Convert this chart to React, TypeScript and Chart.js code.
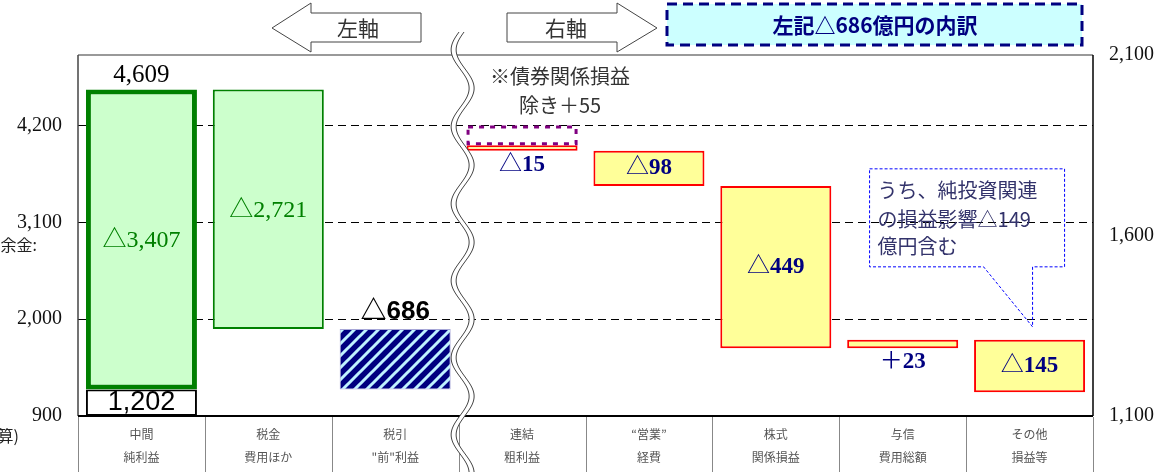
import React, { useEffect, useRef } from "react";
import { Chart, registerables } from "chart.js";
Chart.register(...registerables);

// ---- data ----
const categoryTop = ["中間", "税金", "税引", "連結", "“営業”", "株式", "与信", "その他"];
const categoryBottom = ["純利益", "費用ほか", "\"前\"利益", "粗利益", "経費", "関係損益", "費用総額", "損益等"];
const interimNetIncome = 4609;
const interimBaseLevel = 1202;
const taxesAndOther = -2721;
const leftAxisRange = [900, 5000];
const leftTickValues = [900, 2000, 3100, 4200];
const rightAxisRange = [1100, 2100];
const rightTickValues = [1100, 1600, 2100];
const breakdownStart = 1850;
const breakdownChanges = [-15, -98, -449, 23, -145];
const bondGainExcluded = 55;
const breakdownTotal = -686;
const netInvestmentImpact = -149;

const fmt = (v: number) => Math.abs(v).toLocaleString("en-US");
const sign = (v: number) => (v < 0 ? "△" : "＋");
const delta = (v: number) => sign(v) + fmt(v);

const SERIF = "'Liberation Serif', 'Noto Sans CJK JP', serif";
const SANS = "'Liberation Sans', 'Noto Sans CJK JP', sans-serif";
const GOTHIC = "'Noto Sans CJK JP', sans-serif";

export default function App() {
  const ref = useRef<HTMLCanvasElement | null>(null);
  useEffect(() => {
    document.body.style.margin = "0";
    const canvas = ref.current!;
    const ctx0 = canvas.getContext("2d")!;

    // hatch pattern
    const tile = document.createElement("canvas");
    tile.width = 12; tile.height = 12;
    const g = tile.getContext("2d")!;
    g.fillStyle = "#000080"; g.fillRect(0, 0, 12, 12);
    g.strokeStyle = "#bff2ff"; g.lineWidth = 3;
    g.beginPath();
    g.moveTo(-2, 14); g.lineTo(14, -2);
    g.moveTo(-8, 8); g.lineTo(8, -8);
    g.moveTo(4, 20); g.lineTo(20, 4);
    g.stroke();
    const hatch = ctx0.createPattern(tile, "repeat")!;

    const afterTax = interimNetIncome + taxesAndOther;
    const n = categoryTop.length;
    const leftMain: any[] = new Array(n).fill(null);
    leftMain[0] = [interimBaseLevel, interimNetIncome];
    leftMain[1] = [afterTax, interimNetIncome];
    leftMain[2] = [interimBaseLevel, afterTax];
    const leftBase: any[] = new Array(n).fill(null);
    leftBase[0] = [leftAxisRange[0], interimBaseLevel];
    const rightMain: any[] = new Array(n).fill(null);
    let run = breakdownStart;
    breakdownChanges.forEach((c, i) => { rightMain[3 + i] = [run, run + c]; run += c; });
    const bondBox: any[] = new Array(n).fill(null);
    bondBox[3] = [breakdownStart, breakdownStart + bondGainExcluded];

    const common = { grouped: false, categoryPercentage: 1, barPercentage: 0.875, borderSkipped: false };

    const text = (ctx: CanvasRenderingContext2D, s: string, x: number, y: number, font: string, color: string, align: CanvasTextAlign = "center") => {
      ctx.font = font; ctx.fillStyle = color; ctx.textAlign = align; ctx.textBaseline = "middle";
      ctx.fillText(s, x, y);
    };
    // sign glyph thin, digits bold, centred together
    const signedText = (ctx: CanvasRenderingContext2D, v: number, x: number, y: number, color: string) => {
      const f1 = "23px " + SERIF, f2 = "bold 23px " + SERIF;
      ctx.font = f1; const w1 = ctx.measureText(sign(v)).width;
      ctx.font = f2; const w2 = ctx.measureText(fmt(v)).width;
      const x0 = x - (w1 + w2) / 2;
      text(ctx, sign(v), x0, y, f1, color, "left");
      text(ctx, fmt(v), x0 + w1, y, f2, color, "left");
    };

    const fx = {
      id: "fx",
      beforeDatasetsDraw(chart: any) {
        const { ctx, chartArea: a, scales } = chart;
        ctx.save();
        ctx.strokeStyle = "#000"; ctx.lineWidth = 1; ctx.setLineDash([8, 5]);
        leftTickValues.forEach((v) => {
          if (v <= leftAxisRange[0]) return;
          const y = Math.round(scales.yL.getPixelForValue(v)) + 0.5;
          ctx.beginPath(); ctx.moveTo(a.left, y); ctx.lineTo(a.right, y); ctx.stroke();
        });
        ctx.restore();
      },
      afterDatasetsDraw(chart: any) {
        const { ctx, chartArea: a, scales } = chart;
        const xs = scales.x, yL = scales.yL, yR = scales.yR;
        const H = chart.height;
        ctx.save();

        // purple dotted bond box
        const bm = chart.getDatasetMeta(3).data[3];
        if (bm) {
          const l = bm.x - bm.width / 2 + 1.5, r = bm.x + bm.width / 2 - 1.5;
          const t = yR.getPixelForValue(bondBox[3][1]) + 1.5, b = yR.getPixelForValue(bondBox[3][0]) - 1.5;
          ctx.setLineDash([5, 6]); ctx.strokeStyle = "#800080"; ctx.lineWidth = 3;
          ctx.strokeRect(l, t, r - l, b - t);
          ctx.setLineDash([]);
        }

        // frame
        ctx.lineWidth = 1.5;
        ctx.strokeStyle = "#777";
        ctx.beginPath(); ctx.moveTo(a.left, a.top); ctx.lineTo(a.right, a.top); ctx.stroke();
        ctx.strokeStyle = "#444";
        ctx.beginPath(); ctx.moveTo(a.left, a.top); ctx.lineTo(a.left, a.bottom); ctx.stroke();
        ctx.strokeStyle = "#000";
        ctx.beginPath(); ctx.moveTo(a.right, a.top); ctx.lineTo(a.right, a.bottom); ctx.stroke();
        ctx.lineWidth = 2;
        ctx.beginPath(); ctx.moveTo(a.left, a.bottom); ctx.lineTo(a.right, a.bottom); ctx.stroke();

        // category table
        ctx.lineWidth = 1; ctx.strokeStyle = "#888";
        for (let i = 0; i <= n; i++) {
          const x = Math.round(xs.getPixelForValue(i - 0.5)) + 0.5;
          ctx.beginPath(); ctx.moveTo(x, a.bottom + 1); ctx.lineTo(x, H); ctx.stroke();
        }
        for (let i = 0; i < n; i++) {
          const x = xs.getPixelForValue(i);
          text(ctx, categoryTop[i], x, a.bottom + 18, "12px " + GOTHIC, "#555");
          text(ctx, categoryBottom[i], x, a.bottom + 41, "12px " + GOTHIC, "#555");
        }

        // wave break
        const cx = xs.getPixelForValue(2.5) + 4;
        const wx = (y: number) => cx + 9 * Math.sin((2 * Math.PI * (y - 69)) / 77);
        const pts: number[] = [];
        for (let y = 32; y <= H; y += 2) pts.push(y);
        ctx.beginPath();
        pts.forEach((y, i) => (i ? ctx.lineTo(wx(y) - 2.5, y) : ctx.moveTo(wx(y) - 2.5, y)));
        for (let i = pts.length - 1; i >= 0; i--) ctx.lineTo(wx(pts[i]) + 2.5, pts[i]);
        ctx.closePath(); ctx.fillStyle = "#fff"; ctx.fill();
        ctx.strokeStyle = "#444"; ctx.lineWidth = 1;
        [-2.5, 2.5].forEach((o) => {
          ctx.beginPath();
          pts.forEach((y, i) => (i ? ctx.lineTo(wx(y) + o, y) : ctx.moveTo(wx(y) + o, y)));
          ctx.stroke();
        });

        // left labels
        const x0 = xs.getPixelForValue(0), x1 = xs.getPixelForValue(1), x2 = xs.getPixelForValue(2);
        text(ctx, fmt(interimNetIncome), x0, yL.getPixelForValue(interimNetIncome) - 14, "25px " + SERIF, "#000");
        text(ctx, delta(interimBaseLevel - interimNetIncome), x0, (yL.getPixelForValue(interimNetIncome) + yL.getPixelForValue(interimBaseLevel)) / 2 + 1, "24px " + SERIF, "#008000");
        text(ctx, fmt(interimBaseLevel), x0, (yL.getPixelForValue(interimBaseLevel) + yL.getPixelForValue(leftAxisRange[0])) / 2, "27px " + SANS, "#000");
        text(ctx, delta(taxesAndOther), x1, (yL.getPixelForValue(interimNetIncome) + yL.getPixelForValue(afterTax)) / 2 + 1, "24px " + SERIF, "#008000");
        text(ctx, delta(interimBaseLevel - afterTax), x2, yL.getPixelForValue(afterTax) - 17, "bold 26px " + SANS, "#000");

        // right labels
        const navy = "#000080";
        breakdownChanges.forEach((c, i) => {
          const [s, e] = rightMain[3 + i];
          const x = xs.getPixelForValue(3 + i);
          const top = yR.getPixelForValue(Math.max(s, e)), bot = yR.getPixelForValue(Math.min(s, e));
          const small = Math.abs(c) < 40;
          const y = small ? bot + 14 : (top + bot) / 2;
          signedText(ctx, c, x, y, navy);
        });

        // bond note
        const bx = xs.getPixelForValue(3) + 38;
        const bt = yR.getPixelForValue(breakdownStart + bondGainExcluded);
        text(ctx, "※債券関係損益", bx, bt - 49, "20px " + GOTHIC, "#333");
        text(ctx, "除き" + delta(bondGainExcluded), bx, bt - 20, "20px " + GOTHIC, "#333");

        // callout
        const last = rightMain[7];
        const tipX = xs.getPixelForValue(7) + 3;
        const tipY = yR.getPixelForValue(Math.max(last[0], last[1])) - 13;
        const L = tipX - 163, R = tipX + 32, T = tipY - 158, B = tipY - 60;
        ctx.setLineDash([3, 2]); ctx.strokeStyle = "#0000ff"; ctx.lineWidth = 1;
        ctx.beginPath();
        ctx.moveTo(L, T); ctx.lineTo(R, T); ctx.lineTo(R, B); ctx.lineTo(tipX, B); ctx.lineTo(tipX, tipY);
        ctx.lineTo(tipX - 49, B); ctx.lineTo(L, B); ctx.closePath(); ctx.stroke();
        ctx.setLineDash([]);
        const cf = "20px " + GOTHIC, cc = "#33336b";
        text(ctx, "うち、純投資関連", L + 8, T + 22, cf, cc, "left");
        text(ctx, "の損益影響" + delta(netInvestmentImpact), L + 8, T + 51, cf, cc, "left");
        text(ctx, "億円含む", L + 8, T + 78, cf, cc, "left");

        // cut-off axis notes at the far left
        text(ctx, "剰余金:", 37, 245, "16px " + GOTHIC, "#222", "right");
        text(ctx, "換算)", 19, 436, "16px " + GOTHIC, "#222", "right");

        // top arrows
        ctx.strokeStyle = "#444"; ctx.lineWidth = 1; ctx.fillStyle = "#fff";
        ctx.beginPath();
        ctx.moveTo(272, 28); ctx.lineTo(311, 3); ctx.lineTo(311, 13); ctx.lineTo(421, 13); ctx.lineTo(421, 42); ctx.lineTo(311, 42); ctx.lineTo(311, 52); ctx.closePath();
        ctx.fill(); ctx.stroke();
        ctx.beginPath();
        ctx.moveTo(507, 13); ctx.lineTo(617, 13); ctx.lineTo(617, 3); ctx.lineTo(657, 28); ctx.lineTo(617, 52); ctx.lineTo(617, 42); ctx.lineTo(507, 42); ctx.closePath();
        ctx.fill(); ctx.stroke();
        text(ctx, "左軸", 358, 28, "21px " + GOTHIC, "#333");
        text(ctx, "右軸", 566, 28, "21px " + GOTHIC, "#333");

        // breakdown title box
        ctx.fillStyle = "#ccffff"; ctx.fillRect(667, 4, 415, 41);
        ctx.setLineDash([10, 6]); ctx.strokeStyle = "#000080"; ctx.lineWidth = 3;
        ctx.strokeRect(667, 4, 415, 41); ctx.setLineDash([]);
        text(ctx, "左記" + delta(breakdownTotal) + "億円の内訳", 875, 25, "bold 21px " + GOTHIC, "#000080");

        ctx.restore();
      },
    };

    const tickFont = { family: "'Liberation Serif', serif", size: 20 };
    const chart = new Chart(canvas, {
      type: "bar",
      data: {
        labels: categoryTop,
        datasets: [
          {
            ...common, yAxisID: "yL", data: leftMain,
            backgroundColor: ["#ccffcc", "#ccffcc", hatch, "#fff", "#fff", "#fff", "#fff", "#fff"],
            borderColor: ["#008000", "#008000", "#a8a8d8", "#000", "#000", "#000", "#000", "#000"],
            borderWidth: [5, 2, 1, 0, 0, 0, 0, 0],
          } as any,
          { ...common, yAxisID: "yL", data: leftBase, backgroundColor: "#fff", borderColor: "#000", borderWidth: 2 } as any,
          { ...common, yAxisID: "yR", data: rightMain, backgroundColor: "#ffff99", borderColor: "#ff0000", borderWidth: 2 } as any,
          { ...common, yAxisID: "yR", data: bondBox, backgroundColor: "rgba(0,0,0,0)", borderWidth: 0 } as any,
        ],
      },
      options: {
        responsive: false,
        animation: false,
        devicePixelRatio: 1,
        layout: { padding: { top: 55, left: 0, right: 0, bottom: 0 } },
        plugins: { legend: { display: false }, tooltip: { enabled: false } },
        scales: {
          x: {
            offset: true,
            grid: { display: false, drawTicks: false },
            border: { display: false },
            ticks: { display: false },
            afterFit: (s: any) => { s.height = 56; },
          },
          yL: {
            position: "left",
            min: leftAxisRange[0], max: leftAxisRange[1],
            afterBuildTicks: (s: any) => { s.ticks = leftTickValues.map((v) => ({ value: v })); },
            grid: { display: false, drawTicks: false },
            border: { display: false },
            ticks: { padding: 16, color: "#111", font: tickFont, callback: (v: any) => Number(v).toLocaleString("en-US") },
            afterFit: (s: any) => { s.width = 78; },
          },
          yR: {
            position: "right",
            min: rightAxisRange[0], max: rightAxisRange[1],
            afterBuildTicks: (s: any) => { s.ticks = rightTickValues.map((v) => ({ value: v })); },
            grid: { display: false, drawTicks: false },
            border: { display: false },
            ticks: { padding: 16, color: "#111", font: tickFont, callback: (v: any) => Number(v).toLocaleString("en-US") },
            afterFit: (s: any) => { s.width = 82; },
          },
        },
      } as any,
      plugins: [fx],
    });
    return () => chart.destroy();
  }, []);

  return (
    <div style={{ position: "fixed", left: 0, top: 0, width: 1175, height: 472, background: "#fff" }}>
      <canvas ref={ref} width={1175} height={472} style={{ display: "block" }} />
    </div>
  );
}
